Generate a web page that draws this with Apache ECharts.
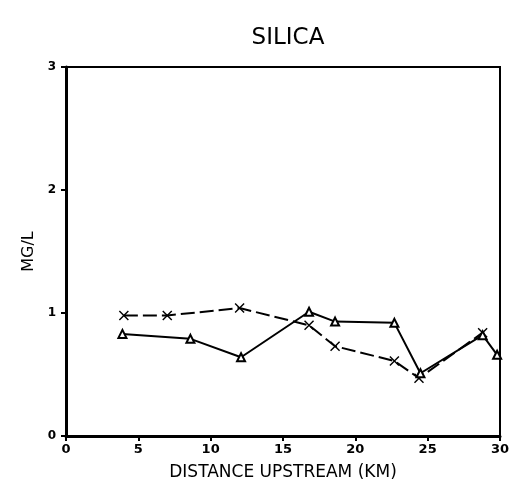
<!DOCTYPE html>
<html>
<head>
<meta charset="utf-8">
<script src="https://cdn.jsdelivr.net/npm/echarts@6/dist/echarts.min.js"></script>
<style>
  html, body { margin: 0; padding: 0; background: #fff; }
  #chart { width: 518px; height: 494px; }
</style>
</head>
<body>
<div id="chart"></div>
<script>
// distance upstream (km) and silica (mg/L)
const triKm = [3.9, 8.6, 12.1, 16.8, 18.6, 22.7, 24.5, 28.8, 29.8];
const triVal = [0.83, 0.79, 0.64, 1.01, 0.93, 0.92, 0.51, 0.82, 0.66];
const crossKm = [4.0, 7.0, 12.0, 16.8, 18.6, 22.7, 24.4, 28.8];
const crossVal = [0.98, 0.98, 1.04, 0.90, 0.73, 0.61, 0.47, 0.84];
const xTicks = [0, 5, 10, 15, 20, 25, 30];
const yTicks = [0, 1, 2, 3];

const crossIcon = "path://M0,1L1,0L5,4L9,0L10,1L6,5L10,9L9,10L5,6L1,10L0,9L4,5Z";
const font = "'Liberation Sans Narrow', 'DejaVu Sans', sans-serif";

const chart = echarts.init(document.getElementById("chart"));
let option = {
  backgroundColor: "#fff",
  animation: false,
  title: {
    text: "SILICA",
    left: 283,
    top: 22,
    textAlign: "center",
    textStyle: { fontFamily: font, fontSize: 23, fontWeight: "normal", color: "#000" },
  },
  grid: {
    left: 66,
    right: 18,
    top: 67,
    bottom: 58,
    show: true,
    borderColor: "#000",
    borderWidth: 2,
  },
  xAxis: {
    type: "value",
    min: xTicks[0],
    max: xTicks[xTicks.length - 1],
    interval: 5,
    name: "DISTANCE UPSTREAM (KM)",
    nameLocation: "middle",
    nameGap: 28,
    nameTextStyle: { fontFamily: font, fontSize: 17, color: "#000" },
    axisLine: { lineStyle: { color: "#000", width: 3 } },
    axisTick: { show: true, length: 5, lineStyle: { color: "#000", width: 2 } },
    axisLabel: { fontFamily: "'DejaVu Sans', sans-serif", fontSize: 13, fontWeight: "bold", color: "#000", margin: 7 },
    splitLine: { show: false },
  },
  yAxis: {
    type: "value",
    min: yTicks[0],
    max: yTicks[yTicks.length - 1],
    interval: 1,
    name: "MG/L",
    nameLocation: "middle",
    nameGap: 27,
    nameRotate: 90,
    nameTextStyle: { fontFamily: font, fontSize: 16, color: "#000" },
    axisLine: { lineStyle: { color: "#000", width: 3 } },
    axisTick: { show: true, length: 5, lineStyle: { color: "#000", width: 2 } },
    axisLabel: { fontFamily: "'DejaVu Sans', sans-serif", fontSize: 12, fontWeight: "bold", color: "#000", margin: 10 },
    splitLine: { show: false },
  },
  series: [
    {
      name: "triangle",
      type: "line",
      data: triKm.map((k, i) => [k, triVal[i]]),
      symbol: "triangle",
      symbolSize: 8,
      itemStyle: { color: "#fff", borderColor: "#000", borderWidth: 2 },
      lineStyle: { color: "#000", width: 2 },
      z: 3,
    },
    {
      name: "cross",
      type: "line",
      data: crossKm.map((k, i) => [k, crossVal[i]]),
      symbol: crossIcon,
      symbolSize: 10,
      itemStyle: { color: "#000" },
      lineStyle: { color: "#000", width: 2, type: [14, 5] },
      z: 2,
    },
  ],
};
option && chart.setOption(option);
</script>
</body>
</html>
